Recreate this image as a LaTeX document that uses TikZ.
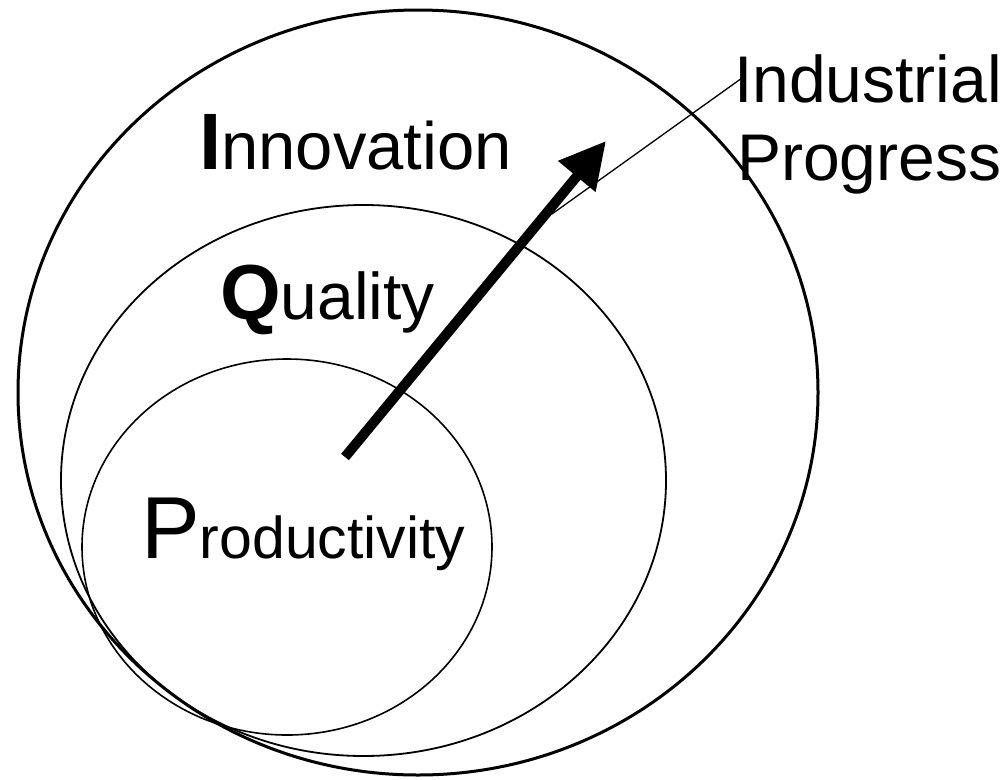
\documentclass[tikz,border=0pt]{standalone}
\usepackage{fontspec}
\setmainfont{Liberation Sans}
\usetikzlibrary{arrows.meta}
\begin{document}
\begin{tikzpicture}[x=1pt,y=-1pt,
  lbl/.style={inner sep=0pt,anchor=base west},
  ring/.style={draw=black}]
\useasboundingbox (0,0) rectangle (1008,779);
% ellipses
\draw[ring,line width=3pt] (418,392.5) ellipse [x radius=400,y radius=382.5];
\draw[ring,line width=1.8pt] (363.5,480.5) ellipse [x radius=302.5,y radius=275.5];
\draw[ring,line width=1.6pt] (287,547) ellipse [x radius=205,y radius=188];
% labels
\node[lbl] (inn) at (199,169) {\fontsize{80}{96}\selectfont\textbf{I}\fontsize{67}{80}\selectfont nnovation};
\node[lbl] (qua) at (220,319) {\fontsize{78}{94}\selectfont\textbf{Q}\fontsize{66}{80}\selectfont uality};
\node[lbl] (pro) at (141,558) {\fontsize{88}{100}\selectfont P\fontsize{59}{72}\selectfont roductivity};
\node[lbl] (ind) at (734,102) {\fontsize{66}{78}\selectfont Industrial};
\node[lbl] (prg) at (737,180) {\fontsize{66}{78}\selectfont Progress};
% arrow
\coordinate (tail) at (345,457);
\coordinate (tip) at (606,141);
\coordinate (lstart) at (552,214);
\coordinate (lend) at (742,78);
\draw[line width=10pt,-{Triangle[length=46pt,width=46pt]}] (tail) -- (tip);
\draw[line width=1.3pt] (lstart) -- (lend);
\end{tikzpicture}
\end{document}
